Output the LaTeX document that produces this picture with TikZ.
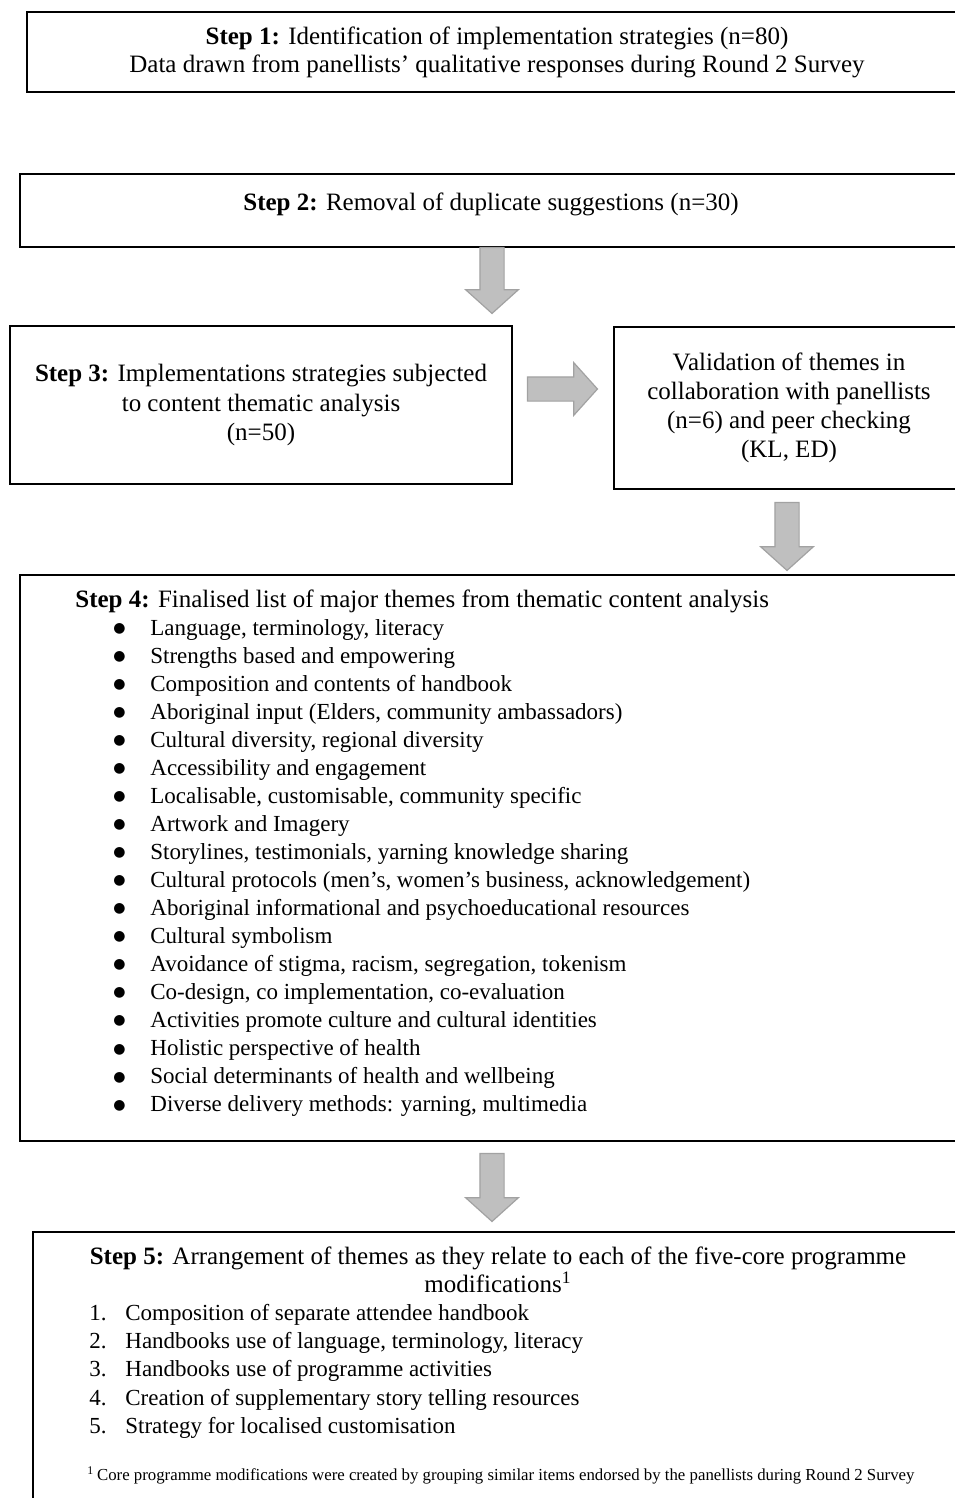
\documentclass[tikz,border=0pt]{standalone}
\usepackage{fontspec}
\setmainfont{Liberation Serif}
\newfontfamily\symfont{DejaVu Sans}
\usetikzlibrary{shapes.arrows,positioning}
\definecolor{arrowFill}{RGB}{191,191,191}
\definecolor{arrowEdge}{RGB}{162,162,162}
\tikzset{
  stepbox/.style={draw=black, line width=1pt, align=center, inner sep=0pt, font=\fontsize{12.5}{14}\selectfont},
  blockarrow/.style={single arrow, draw=arrowEdge, fill=arrowFill, line width=0.6pt, inner xsep=0pt, inner ysep=5.75pt, text height=0pt, text depth=0pt, minimum width=24.5pt, single arrow tip angle=96},
  listtext/.style={anchor=base west, inner sep=0pt, font=\fontsize{11.5}{14}\selectfont},
}
\newcommand{\listbullet}{{\symfont\fontsize{7}{8}\selectfont\raisebox{1.4pt}{●}}}

\begin{document}
\begin{tikzpicture}[x=0.5pt, y=-0.5pt]
\useasboundingbox (0,0) rectangle (954,1498);

% the five steps
\node[stepbox, minimum width=470pt, minimum height=40pt] (step1) at (497,52) {\textbf{Step 1:} Identification of implementation strategies (n=80)\\Data drawn from panellists’ qualitative responses during Round 2 Survey};
\node[stepbox, minimum width=471pt, minimum height=36.5pt, text height=8pt, text depth=8pt] (step2) at (491,210.5) {\textbf{Step 2:} Removal of duplicate suggestions (n=30)};
\node[stepbox, minimum width=251pt, minimum height=79pt, font=\fontsize{12.5}{14.7}\selectfont] (step3) at (261,405) {\textbf{Step 3:} Implementations strategies subjected\\to content thematic analysis\\(n=50)};
\node[stepbox, minimum width=175pt, minimum height=81pt, font=\fontsize{12.5}{14.4}\selectfont] (valid) at (789,408) {Validation of themes in\\collaboration with panellists\\(n=6) and peer checking\\(KL, ED)};
\node[stepbox, minimum width=472pt, minimum height=283pt] (step4) at (492,858) {};
\node[stepbox, minimum width=465pt, minimum height=144pt] (step5) at (498,1376) {};

% block arrows
\node[blockarrow, rotate=-90, minimum height=33pt] (arr23) at (492,275) {};
\node[blockarrow, minimum height=35pt] (arr3v) at (557,389) {};
\node[blockarrow, rotate=-90, minimum height=34pt] (arrv4) at (787,531) {};
\node[blockarrow, rotate=-90, minimum height=34pt] (arr45) at (492,1182) {};

% step 4 themes
\node[listtext, font=\fontsize{12.5}{14}\selectfont] (head4) at (75,607) {\textbf{Step 4:} Finalised list of major themes from thematic content analysis};
\foreach \t [count=\i] in {{Language, terminology, literacy},
  Strengths based and empowering,
  Composition and contents of handbook,
  {Aboriginal input (Elders, community ambassadors)},
  {Cultural diversity, regional diversity},
  Accessibility and engagement,
  {Localisable, customisable, community specific},
  Artwork and Imagery,
  {Storylines, testimonials, yarning knowledge sharing},
  {Cultural protocols (men’s, women’s business, acknowledgement)},
  Aboriginal informational and psychoeducational resources,
  Cultural symbolism,
  {Avoidance of stigma, racism, segregation, tokenism},
  {Co-design, co implementation, co-evaluation},
  Activities promote culture and cultural identities,
  Holistic perspective of health,
  Social determinants of health and wellbeing,
  {Diverse delivery methods: yarning, multimedia}}
{
  \node[listtext] (bul\i) at (113,607+28.05*\i) {\listbullet};
  \node[listtext] (theme\i) at (150,607+28.05*\i) {\t};
}

% step 5 modifications
\node[stepbox, draw=none] (head5) at (498,1270) {\textbf{Step 5:} Arrangement of themes as they relate to each of the five-core programme\\modifications\textsuperscript{1}};
\foreach \t [count=\i] in {Composition of separate attendee handbook,
  {Handbooks use of language, terminology, literacy},
  Handbooks use of programme activities,
  Creation of supplementary story telling resources,
  Strategy for localised customisation}
{
  \node[listtext] (num\i) at (89,1320+28.4*\i-28.4) {\i.};
  \node[listtext] (mod\i) at (125,1320+28.4*\i-28.4) {\t};
}
\node[listtext, font=\fontsize{8.4}{10}\selectfont] (note) at (87,1480) {\textsuperscript{1}\,Core programme modifications were created by grouping similar items endorsed by the panellists during Round 2 Survey};
\end{tikzpicture}
\end{document}
